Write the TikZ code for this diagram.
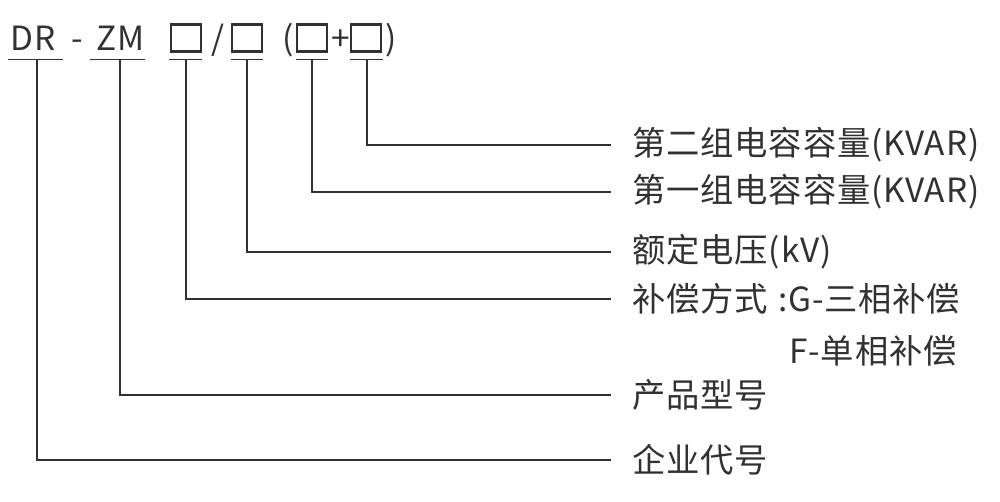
\documentclass[tikz,border=0pt]{standalone}
\usepackage{fontspec}
\setmainfont{Noto Sans CJK SC}[LetterSpace=2.5]
\usepackage{xcolor}
\definecolor{ink}{HTML}{333031}

\begin{document}
\begin{tikzpicture}[x=0.75pt,y=0.75pt,yscale=-1,xscale=1,
    every node/.style={text=ink,font=\fontsize{25pt}{29pt}\selectfont},
    code/.style={anchor=base west,inner sep=0pt},
    slot/.style={draw=ink,line width=2pt,minimum width=22.5pt,minimum height=20pt,inner sep=0pt},
    lab/.style={anchor=west,inner xsep=15.75pt,inner ysep=0pt},
    rule/.style={draw=ink,line width=1.1pt}]
    \useasboundingbox (0,0) rectangle (1000,501);

    % Text Node
    \node[code] (dr) at (10.5,50) {DR};
    \node[code] (dash) at (71,50) {-};
    \node[code] (zm) at (96,50) {ZM};
    \node[code] (slash) at (211,50) {/};
    \node[code] (lpar) at (282,50) {(};
    \node[code] (plus) at (331,50) {+};
    \node[code] (rpar) at (385,50) {)};
    %Shape: Square
    \node[slot] (b1) at (186,38) {};
    \node[slot] (b2) at (247,38) {};
    \node[slot] (b3) at (312,38) {};
    \node[slot] (b4) at (366,38) {};

    %Straight Lines (underlines)
    \draw[rule] (8,59.5) -- (63,59.5);
    \draw[rule] (90,59.5) -- (145,59.5);
    \draw[rule] (169,59.5) -- (202,59.5);
    \draw[rule] (231,59.5) -- (263,59.5);
    \draw[rule] (296,59.5) -- (328,59.5);
    \draw[rule] (350,59.5) -- (383,59.5);
    \coordinate (t0) at (37,59.5);
    \coordinate (t1) at (120,59.5);
    \coordinate (t2) at (186,59.5);
    \coordinate (t3) at (247,59.5);
    \coordinate (t4) at (312,59.5);
    \coordinate (t5) at (367,59.5);

    % Text Node
    \node[lab] (cap2) at (611,145) {第二组电容容量(KVAR)};
    \node[lab] (cap1) at (611,192) {第一组电容容量(KVAR)};
    \node[lab] (volt) at (611,252) {额定电压(kV)};
    \node[lab] (mode) at (611,299) {补偿方式\hspace{0.3em}:G-三相补偿};
    \node[anchor=west,inner sep=0pt] (modeb) at (789,351) {F-单相补偿};
    \node[lab] (model) at (611,395) {产品型号};
    \node[lab] (firm) at (611,460) {企业代号};

    %Straight Lines
    \draw[rule] (t5) |- (cap2.west);
    \draw[rule] (t4) |- (cap1.west);
    \draw[rule] (t3) |- (volt.west);
    \draw[rule] (t2) |- (mode.west);
    \draw[rule] (t1) |- (model.west);
    \draw[rule] (t0) |- (firm.west);

\end{tikzpicture}
\end{document}
